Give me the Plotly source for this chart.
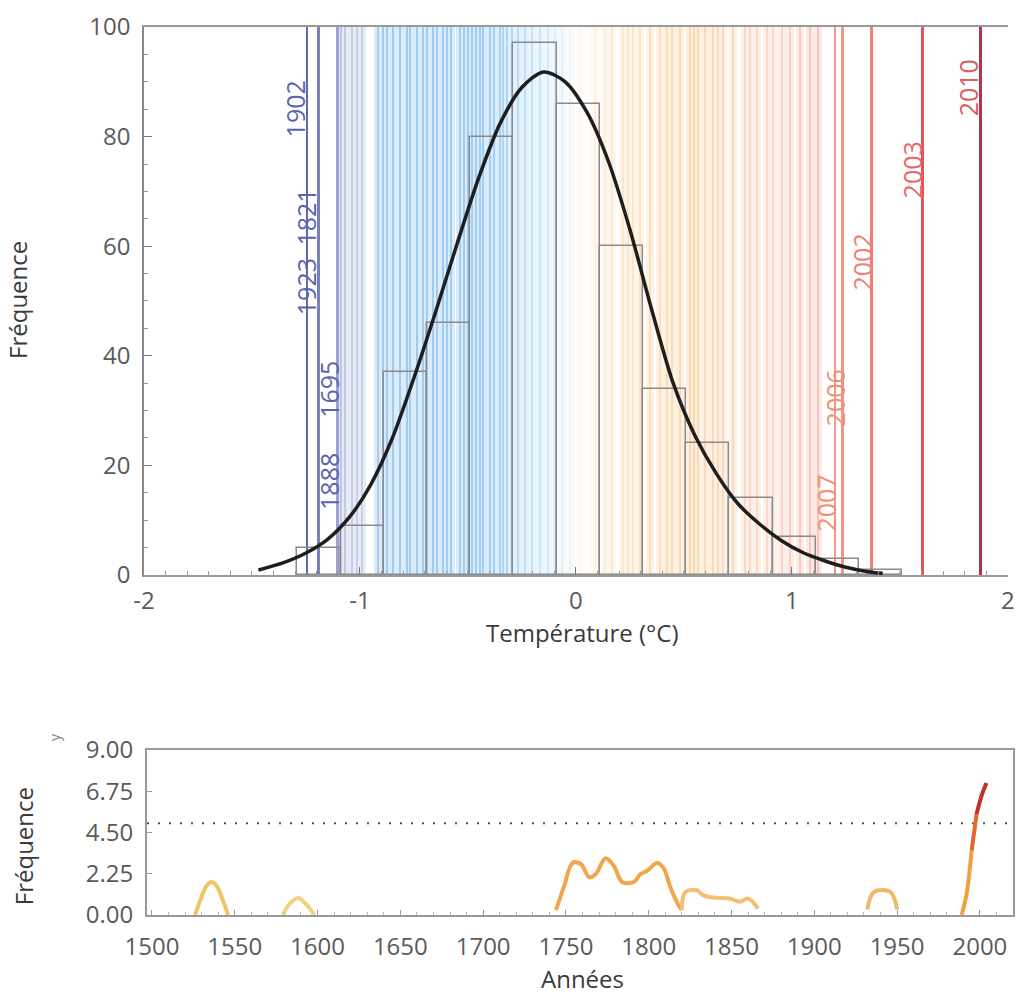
import plotly.graph_objects as go

# ---------------- top panel data ----------------
bin_centers = [-1.19, -0.99, -0.79, -0.59, -0.39, -0.19, 0.01, 0.21, 0.41, 0.61, 0.81, 1.01, 1.21, 1.41]
bin_counts = [5, 9, 37, 46, 80, 97, 86, 60, 34, 24, 14, 7, 3, 1]

fit_T = [-1.47, -1.35, -1.25, -1.15, -1.05, -0.95, -0.85, -0.75, -0.65, -0.55, -0.45, -0.35,
         -0.25, -0.15, -0.05, 0.05, 0.15, 0.25, 0.35, 0.45, 0.55, 0.65, 0.75, 0.85,
         0.95, 1.05, 1.15, 1.25, 1.35, 1.42]
fit_freq = [0.9, 2.3, 4.0, 6.5, 10.5, 16.5, 25, 36, 48, 60.5, 72.5, 82.5,
            89, 91.8, 90, 84.5, 75.5, 63, 48.5, 35, 25.5, 18.5, 13, 9.3,
            6.3, 4.1, 2.6, 1.4, 0.6, 0.3]

year_T = [-1.088, -1.069, -1.037, -1.014, -0.991, -0.917, -0.894, -0.875, -0.847, -0.815,
          -0.782, -0.769, -0.736, -0.708, -0.690, -0.662, -0.644, -0.616, -0.597, -0.579,
          -0.537, -0.519, -0.500, -0.481, -0.463, -0.444, -0.431, -0.398, -0.380, -0.352,
          -0.338, -0.319, -0.296, -0.269, -0.236, -0.204, -0.167, -0.130, -0.097, -0.065,
          -0.028, 0.019, 0.088, 0.134, 0.167, 0.218, 0.241, 0.264, 0.296, 0.343,
          0.389, 0.421, 0.444, 0.481, 0.528, 0.546, 0.565, 0.597, 0.634, 0.657,
          0.681, 0.727, 0.782, 0.806, 0.838, 0.884, 0.912, 0.954, 0.991, 1.037,
          1.083, 1.120]

label_years = ["1902", "1821", "1923", "1695", "1888", "2007", "2006", "2002", "2003", "2010"]
label_line_T = [-1.245, -1.194, -1.188, -1.106, -1.100, 1.200, 1.235, 1.370, 1.606, 1.875]
label_text_T = [-1.30, -1.248, -1.25, -1.143, -1.143, 1.157, 1.199, 1.324, 1.560, 1.815]
label_text_f = [85.0, 65.3, 52.7, 33.8, 17.0, 13.2, 32.4, 57.2, 74.0, 88.8]

x_ticks = [-2, -1, 0, 1, 2]
x_tick_text = ["-2", "-1", "0", "1", "2"]

# ---------------- bottom panel data ----------------
seg_years = [
    [1526, 1530, 1533, 1536, 1539, 1542, 1546],
    [1579, 1583, 1588, 1593, 1598],
    [1744, 1749, 1754, 1759, 1764, 1768, 1774, 1779, 1784, 1791, 1795, 1799, 1805, 1809, 1813, 1818, 1820],
    [1820, 1822, 1829, 1833, 1839, 1849, 1855, 1860, 1866],
    [1932, 1936, 1946, 1950],
    [1989, 1992, 1995],
    [1995, 1998],
    [1998, 2001, 2004],
]
seg_freq = [
    [0, 1.0, 1.6, 1.8, 1.6, 1.0, 0],
    [0, 0.6, 0.93, 0.6, 0],
    [0.27, 1.6, 2.84, 2.78, 2.07, 2.23, 3.1, 2.67, 1.8, 1.8, 2.23, 2.4, 2.84, 2.56, 1.53, 0.54, 0.27],
    [0.27, 1.25, 1.35, 1.07, 0.95, 0.9, 0.72, 0.9, 0.35],
    [0.3, 1.25, 1.25, 0.3],
    [0, 1.16, 3.5],
    [3.5, 5.5],
    [5.5, 6.5, 7.2],
]
seg_colors = ["#efc462", "#f1d27e", "#f0a64a", "#f2c072", "#f0b86a", "#f0a040", "#e4662a", "#c4302a"]
threshold = 5.0
year_range = [1497, 2020]

# ---------------- figure ----------------
cscale = [
    [0.0, "#3e4a9a"], [0.0625, "#9aa0d0"], [0.094, "#a8b8e0"], [0.125, "#6cace8"],
    [0.281, "#66b2ee"], [0.375, "#c4e4fa"], [0.406, "#fbf5ee"], [0.453, "#fde0b8"],
    [0.5625, "#f9c27e"], [0.6875, "#f8c4ac"], [0.781, "#f49486"], [0.844, "#f07070"],
    [0.906, "#e44c58"], [1.0, "#a82838"],
]
cmin, cmax = -1.3, 1.9

fig = go.Figure()

# glow of yearly lines
fig.add_trace(go.Bar(x=year_T, y=[100] * len(year_T), width=0.04, xaxis="x", yaxis="y",
                     marker=dict(color=year_T, colorscale=cscale, cmin=cmin, cmax=cmax, line=dict(width=0)),
                     opacity=0.24, showlegend=False, hoverinfo="skip"))
# core of yearly lines
fig.add_trace(go.Bar(x=year_T, y=[100] * len(year_T), width=0.008, xaxis="x", yaxis="y",
                     marker=dict(color=year_T, colorscale=cscale, cmin=cmin, cmax=cmax, line=dict(width=0)),
                     opacity=0.5, showlegend=False, hoverinfo="skip"))
# labelled years lines
fig.add_trace(go.Bar(x=label_line_T, y=[100] * len(label_line_T), width=0.009, xaxis="x", yaxis="y",
                     marker=dict(color=label_line_T, colorscale=cscale, cmin=cmin, cmax=cmax, line=dict(width=0)),
                     opacity=0.95, showlegend=False, hoverinfo="skip"))
# histogram outline
fig.add_trace(go.Bar(x=bin_centers, y=bin_counts, width=0.2, xaxis="x", yaxis="y",
                     marker=dict(color="rgba(0,0,0,0)", line=dict(color="#8a8a8a", width=1.5)),
                     showlegend=False, hoverinfo="skip"))
# fitted curve
fig.add_trace(go.Scatter(x=fit_T, y=fit_freq, mode="lines",
                         line=dict(color="#1e1e1e", width=3.5, shape="spline", smoothing=0.8),
                         xaxis="x", yaxis="y", showlegend=False, hoverinfo="skip"))

# bottom panel
fig.add_trace(go.Scatter(x=year_range, y=[threshold, threshold], mode="lines",
                         line=dict(color="#555555", width=2, dash="2px,9px"),
                         xaxis="x2", yaxis="y2", showlegend=False, hoverinfo="skip"))
for yrs, fr, col in zip(seg_years, seg_freq, seg_colors):
    fig.add_trace(go.Scatter(x=yrs, y=fr, mode="lines", line=dict(color=col, width=4, shape="spline"),
                             xaxis="x2", yaxis="y2", showlegend=False, hoverinfo="skip"))

label_colors = ["#5b64b0", "#5b64b0", "#5b64b0", "#5b64b0", "#5b64b0",
                "#f29070", "#f29070", "#f08075", "#e86868", "#d86060"]
for yr, tx, ty, col in zip(label_years, label_text_T, label_text_f, label_colors):
    fig.add_annotation(x=tx, y=ty, xref="x", yref="y", text=yr, textangle=-90, showarrow=False,
                       xanchor="center", yanchor="middle",
                       font=dict(family="Open Sans", size=25, color=col))

tick_font = dict(family="Open Sans", size=24, color="#5a5a5a")
title_font = dict(family="Open Sans", size=24, color="#3a3a3a")

fig.update_layout(
    width=1016, height=997,
    margin=dict(l=144, r=3, t=27, b=82),
    paper_bgcolor="white", plot_bgcolor="white",
    barmode="overlay", bargap=0,
    xaxis=dict(domain=[0, 0.9942], range=[-2, 2], tickvals=x_ticks, ticktext=x_tick_text,
               ticks="inside", ticklen=8, tickcolor="#777", tickwidth=1.2,
               minor=dict(ticks="inside", ticklen=4, dtick=0.1, tickcolor="#999"),
               showline=True, linecolor="#999", linewidth=1.5, mirror=True, automargin=False,
               showgrid=False, zeroline=False, tickfont=tick_font, ticklabelstandoff=3),
    yaxis=dict(domain=[0.3829, 1], range=[0, 100], dtick=20, ticks="inside", ticklen=8,
               tickcolor="#777", minor=dict(ticks="inside", ticklen=4, dtick=5, tickcolor="#999"),
               showline=True, linecolor="#888", linewidth=1.5, showgrid=False, zeroline=False,
               automargin=False, tickfont=tick_font, ticklabelstandoff=7),
    xaxis2=dict(domain=[0.00345, 1], range=year_range, tick0=1500, dtick=50, anchor="y2",
                ticks="inside", ticklen=5, tickcolor="#999",
                minor=dict(ticks="inside", ticklen=3, dtick=10, tickcolor="#bbb"),
                showline=True, linecolor="#999", linewidth=2, mirror=True, automargin=False,
                showgrid=False, zeroline=False, tickfont=tick_font, ticklabelstandoff=9),
    yaxis2=dict(domain=[0, 0.1858], range=[0, 9], tickvals=[0, 2.25, 4.5, 6.75, 9],
                tickformat=".2f", anchor="x2", ticks="inside", ticklen=5, tickcolor="#999",
                showline=True, linecolor="#999", linewidth=2, mirror=True, automargin=False,
                showgrid=False, zeroline=False, tickfont=tick_font, ticklabelstandoff=7),
    annotations=list(fig.layout.annotations) + [
        dict(x=-0.145, y=0.6926, xref="paper", yref="paper", text="Fréquence", textangle=-90,
             xanchor="center", yanchor="middle", showarrow=False, font=title_font),
        dict(x=-0.139, y=0.0777, xref="paper", yref="paper", text="Fréquence", textangle=-90,
             xanchor="center", yanchor="middle", showarrow=False, font=title_font),
        dict(x=0.505, y=0.3176, xref="paper", yref="paper", text="Température (°C)",
             xanchor="center", yanchor="middle", showarrow=False, font=title_font),
        dict(x=0.505, y=-0.0715, xref="paper", yref="paper", text="Années",
             xanchor="center", yanchor="middle", showarrow=False, font=title_font),
        dict(x=-0.1024, y=0.2005, xref="paper", yref="paper", text="y", textangle=-90,
             xanchor="center", yanchor="middle", showarrow=False,
             font=dict(family="Open Sans", size=14, color="#888")),
    ],
)

fig.write_html("out.html")
